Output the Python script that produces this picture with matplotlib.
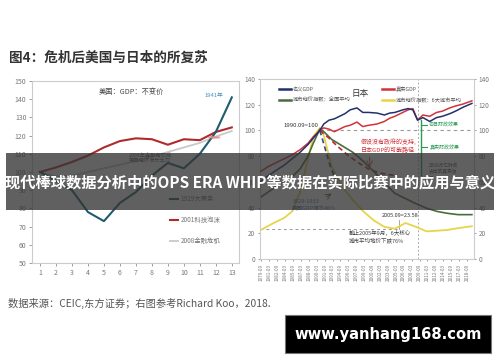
import matplotlib
matplotlib.use("Agg")
import matplotlib.pyplot as plt
from matplotlib.patches import Rectangle, Circle

plt.rcParams['font.family'] = ['Noto Sans CJK SC', 'DejaVu Sans']

# ---------------- data: left chart (US GDP after crises) ----------------
periods = list(range(1, 14))
us_1929 = [100, 95, 90, 78, 73, 83, 89, 98, 105, 102, 110, 122, 141]
us_2001 = [100, 102.5, 105.5, 109, 113.5, 117, 118.5, 118, 115, 118, 117.5, 122, 124.5]
us_2008 = [100, 97.5, 98, 100, 102, 104, 106, 108.5, 111, 113.5, 116, 119.5, 122.5]
left_labels = ['1929大萧条', '2001科技泡沫', '2008金融危机']
left_yticks = [50, 60, 70, 80, 90, 100, 110, 120, 130, 140, 150]

# ---------------- data: right chart (Japan) ----------------
gdp_years = [1979.5, 1981, 1982.5, 1984, 1985.5, 1987, 1988.5, 1989.5, 1990.75, 1991.5,
             1992.5, 1993.5, 1994.5, 1995.5, 1996.5, 1997.8, 1998.9, 2000, 2001.6, 2003,
             2004, 2005, 2006.5, 2007.5, 2008.4, 2009.3, 2010.3, 2011.6, 2012.9, 2014,
             2015.4, 2016.5, 2017.9, 2019.6]
nominal_gdp = [60, 65, 69, 73, 78, 83, 89, 94, 100, 105,
               108, 109, 111, 113, 116, 117.5, 114, 114, 113.5, 112,
               113.5, 114, 116, 117, 116, 108, 110, 107, 110, 111,
               113, 115, 118, 121]
real_gdp = [68, 72, 75, 78, 81, 85, 90, 95, 100, 102,
            101, 99, 101, 103, 104, 106.5, 103, 104, 105, 107,
            109.5, 111, 114, 116, 117, 108, 112, 111, 114, 115,
            117.5, 119, 120.5, 123]
land_years = [1979.5, 1982, 1984, 1985.5, 1987, 1988.5, 1989.5, 1990.75, 1991.5, 1993,
              1995, 1997, 1999, 2001, 2003, 2005, 2007, 2009, 2011, 2013,
              2015, 2017, 2019.6]
land_national = [48, 55, 60, 64, 70, 80, 90, 101, 99, 93,
                 88, 83, 76, 68, 59, 51, 47, 43, 39.5, 37,
                 35.5, 34.5, 34.5]
land_six = [22.5, 28, 32, 37, 52, 78, 95, 102, 96, 72,
            56, 46, 37, 30, 25, 23.6, 28, 25, 21.5, 22, 22.6, 24, 25.5]
no_support_years = [1990.75, 1992.5, 1994, 1996, 1998, 2000, 2002, 2004, 2005.5]
no_support_gdp = [100, 94, 88, 81, 75, 70, 67, 65.5, 65]
us_path_years = [1990.75, 1991.75, 1992.75, 1993.75, 1994.75]
us_path_gdp = [100, 86, 72, 62, 54]
japan_xlabels = ['1979-09', '1981-03', '1982-09', '1984-03', '1985-09', '1987-03', '1988-09',
                 '1990-03', '1991-09', '1993-03', '1994-09', '1996-03', '1997-09', '1999-03',
                 '2000-09', '2002-03', '2003-09', '2005-03', '2006-09', '2008-03', '2009-09',
                 '2011-03', '2012-09', '2014-03', '2015-09', '2017-03', '2018-09']
right_yticks = [0, 20, 40, 60, 80, 100, 120, 140]

W, H = 500, 362
fig = plt.figure(figsize=(5, 3.62), dpi=100)
fig.patch.set_facecolor('white')

def fx(px):
    return px / W

def fy(py):
    return 1 - py / H

# ---------------- title ----------------
fig.text(fx(9), fy(58), '图4：危机后美国与日本的所复苏', fontsize=9.8, fontweight='bold',
         color='#333333', va='center', ha='left')

# ---------------- left chart ----------------
axL = fig.add_axes([fx(32), fy(263), fx(239) - fx(32), fy(81) - fy(263)])
c1929, c2001, c2008 = '#1f5c6e', '#b02a2c', '#c9c9c9'
axL.plot(periods, us_2008, color=c2008, lw=1.3, label=left_labels[2], zorder=2)
axL.plot(periods, us_2001, color=c2001, lw=1.5, label=left_labels[1], zorder=3)
axL.plot(periods, us_1929, color=c1929, lw=1.5, label=left_labels[0], zorder=4)
axL.set_xlim(0.5, 13.45)
axL.set_ylim(50, 150)
axL.set_xticks(periods)
axL.set_yticks(left_yticks)
axL.tick_params(labelsize=5, colors='#777777', length=2, width=0.5, pad=2)
for s in axL.spines.values():
    s.set_color('#cccccc')
    s.set_linewidth(0.8)
axL.add_patch(Circle((11.9, 119), 0.35, color='#e98b8b', alpha=0.75, zorder=5,
                     transform=axL.transData))
axL.text(0.48, 0.94, '美国：GDP：不变价', transform=axL.transAxes, fontsize=5.2,
         color='#444444', ha='center', va='center')
axL.text(11.9, 142, '1941年', fontsize=4.2, color='#4a8fc0', ha='center', va='center')
axL.text(7.9, 107.5, '2008年金融危机后\n美国经济增长乏力', fontsize=3.8, color='#666666',
         ha='center', va='center', linespacing=1.2)
h, l = axL.get_legend_handles_labels()
legL = axL.legend([h[2], h[1], h[0]], [l[2], l[1], l[0]], loc='upper left',
                  bbox_to_anchor=(0.655, 0.385), frameon=False, fontsize=4.6,
                  handlelength=1.3, handletextpad=0.3, labelspacing=2.0, borderaxespad=0)
for t in legL.get_texts():
    t.set_color('#777777')

# ---------------- right chart ----------------
axR = fig.add_axes([fx(260), fy(259), fx(474) - fx(260), fy(79) - fy(259)])
c_nom, c_real, c_green, c_yel = '#23306e', '#d0333a', '#4c6b3a', '#e8d44a'
axR.plot(land_years, land_six, color=c_yel, lw=1.3, label='城市地价指数：6大城市平均', zorder=2)
axR.plot(land_years, land_national, color=c_green, lw=1.2, label='城市地价指数：全国平均', zorder=2)
axR.plot(gdp_years, real_gdp, color=c_real, lw=1.1, label='真实GDP', zorder=3)
axR.plot(gdp_years, nominal_gdp, color=c_nom, lw=1.1, label='名义GDP', zorder=4)
axR.plot(no_support_years, no_support_gdp, color='#c0282e', lw=1.2, ls=(0, (3, 2)), zorder=3)
axR.plot(us_path_years, us_path_gdp, color='#3a4a8a', lw=1.2, ls=(0, (3, 2)), zorder=3)
axR.set_xlim(1979.4, 2020.0)
axR.set_ylim(0, 140)
axR.set_yticks(right_yticks)
xpos = [int(s[:4]) + (int(s[5:]) - 1) / 12 for s in japan_xlabels]
axR.set_xticks(xpos)
axR.set_xticklabels(japan_xlabels, rotation=90, fontsize=3.3)
axR.tick_params(axis='both', labelsize=4.6, colors='#777777', length=1.5, width=0.5, pad=2)
axR.tick_params(axis='x', labelsize=3.3)
axR.tick_params(axis='y', right=True, labelright=True)
for s in axR.spines.values():
    s.set_color('#cccccc')
    s.set_linewidth(0.8)
# reference lines
axR.plot([1990.75, 2019.8], [100, 100], color='#999999', lw=0.8, ls=(0, (3, 3)), zorder=1)
axR.axvline(2009.3, color='#aaaaaa', lw=0.7, ls=(0, (2, 2)), zorder=1)
axR.plot([1979.4, 2005.75], [23.58, 23.58], color='#999999', lw=0.7, ls=(0, (3, 3)), zorder=1)
axR.plot([2005.75, 2005.75], [23.58, 30], color='#999999', lw=0.6, zorder=1)
axR.plot([2009.9, 2009.9], [65, 108], color='#2e9a55', lw=1.0, zorder=5)
axR.plot([2010.1, 2011.0], [104, 104], color='#2e9a55', lw=0.8, zorder=5)
axR.plot([2010.1, 2011.0], [87, 87], color='#2e9a55', lw=0.8, zorder=5)
axR.text(2011.5, 104, '名目财政效果', fontsize=3.6, color='#2e9a55', va='center')
axR.text(2011.5, 87, '真实财政效果', fontsize=3.6, color='#2e9a55', va='center')
axR.text(2011.5, 75, '2000万亿财政\n支出的真实效\n果', fontsize=3.4, color='#555555',
         va='top', linespacing=1.3)
axR.text(1990.5, 102, '1990.09=100', fontsize=4.3, color='#333333', ha='right', va='bottom')
axR.text(1998.5, 88, '假设没有政府的支持,\n日本GDP的可能路径', fontsize=4.3, color='#d0333a',
         ha='left', va='center', linespacing=1.3)
axR.annotate('', xy=(2000.2, 69), xytext=(2000.2, 81),
             arrowprops=dict(arrowstyle='->', color='#d0333a', lw=0.7, ls='--'))
axR.text(1985.5, 42, '1929-1933\n美国GDP缩水46%', fontsize=4.0, color='#4a6aa8',
         ha='left', va='center', linespacing=1.3)
axR.annotate('', xy=(1993.4, 52), xytext=(1991.5, 47),
             arrowprops=dict(arrowstyle='->', color='#333333', lw=0.5))
axR.text(2005.9, 32, '2005.09=23.58', fontsize=4.0, color='#333333', ha='center', va='bottom')
axR.text(1996.3, 17.5, '截止2005年9月，6大核心\n城市平均地价下跌76%', fontsize=4.0,
         color='#444444', ha='left', va='center', linespacing=1.4)
axR.text(0.47, 0.92, '日本', transform=axR.transAxes, fontsize=6.2, color='#333333',
         ha='center', va='center')
hR, lR = axR.get_legend_handles_labels()
leg1 = axR.legend([hR[3], hR[1]], [lR[3], lR[1]], loc='upper left', bbox_to_anchor=(0.08, 0.97),
                  frameon=False, fontsize=3.8, handlelength=2.2, handletextpad=0.4,
                  labelspacing=1.0, borderaxespad=0)
axR.add_artist(leg1)
leg2 = axR.legend([hR[2], hR[0]], [lR[2], lR[0]], loc='upper left', bbox_to_anchor=(0.56, 0.97),
                  frameon=False, fontsize=3.8, handlelength=2.2, handletextpad=0.4,
                  labelspacing=1.0, borderaxespad=0)
for lg in (leg1, leg2):
    for t in lg.get_texts():
        t.set_color('#555555')
    for ln in lg.get_lines():
        ln.set_linewidth(1.8)

# ---------------- overlay banner ----------------
fig.patches.append(Rectangle((fx(6), fy(210)), fx(494) - fx(6), fy(153) - fy(210),
                             transform=fig.transFigure, facecolor='#333333', alpha=0.78,
                             edgecolor='none', zorder=10))
fig.text(0.5, fy(183), '现代棒球数据分析中的OPS ERA WHIP等数据在实际比赛中的应用与意义',
         fontsize=11.0, fontweight='bold', color='white', ha='center', va='center', zorder=11)

# ---------------- footer ----------------
fig.text(fx(8), fy(303), '数据来源：CEIC,东方证券；右图参考Richard Koo，2018.', fontsize=7.4,
         color='#555555', ha='left', va='center')
fig.patches.append(Rectangle((fx(285), fy(353)), fx(491) - fx(285), fy(315) - fy(353),
                             transform=fig.transFigure, facecolor='black', edgecolor='#777777',
                             lw=0.8, zorder=10))
fig.text(fx(388), fy(334), 'www.yanhang168.com', fontsize=10.6, fontweight='bold',
         family='DejaVu Sans', color='white', ha='center', va='center', zorder=11)

fig.savefig('out.png', dpi=100)
